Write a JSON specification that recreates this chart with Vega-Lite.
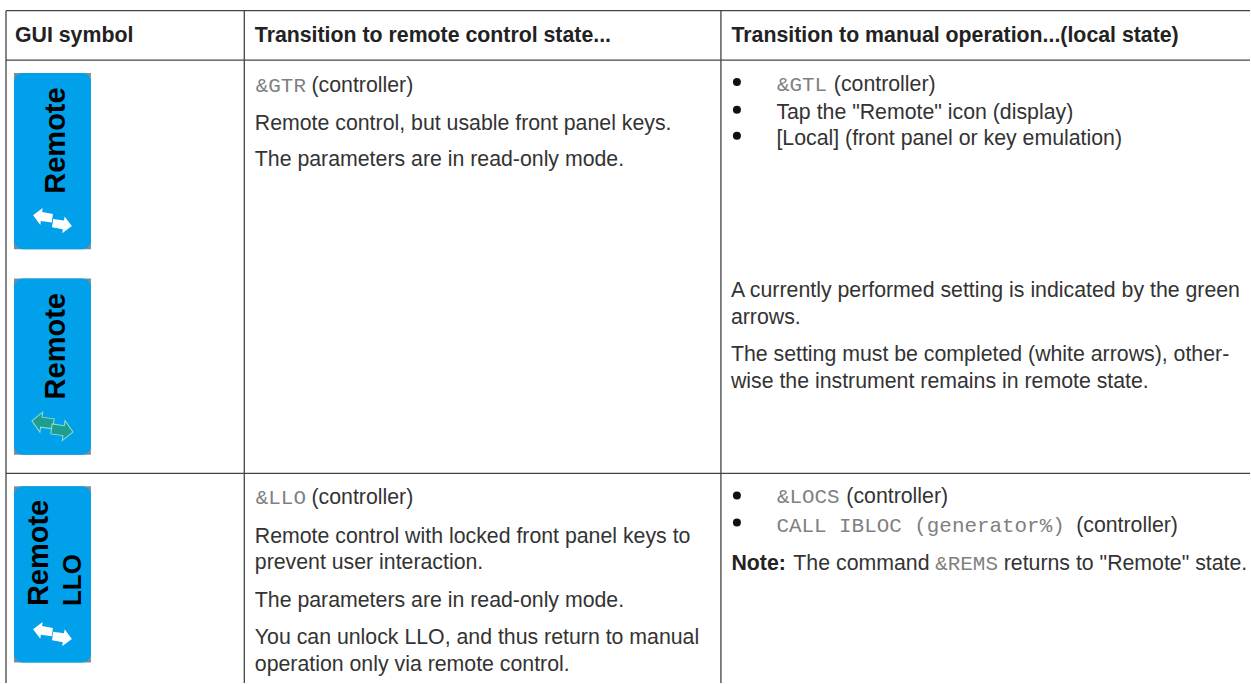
{
"$schema":"https://vega.github.io/schema/vega-lite/v6.json",
"width":1251,"height":684,
"autosize":{"type":"fit","contains":"padding"},
"background":"white",
"padding":0,
"view":{"stroke":null},
"datasets":{
"grid":[
{"x":6,"x2":1251,"y":10.7,"y2":10.7},
{"x":6,"x2":1251,"y":60.3,"y2":60.3},
{"x":6,"x2":1251,"y":474,"y2":474},
{"x":6,"x2":6,"y":10.7,"y2":684},
{"x":244.5,"x2":244.5,"y":10.7,"y2":684},
{"x":721.5,"x2":721.5,"y":10.7,"y2":684}
],
"icons":[
{"x":14,"x2":91,"y":73,"y2":249.5},
{"x":14,"x2":91,"y":279,"y2":455.5},
{"x":14,"x2":91,"y":487,"y2":663.5}
],
"iconText":[
{"t":"Remote","x":65,"y":194},
{"t":"Remote","x":65,"y":400},
{"t":"Remote","x":48,"y":607}
],
"iconText2":[{"t":"LLO","x":81.5,"y":607}],
"white":[{"x":43,"y":217,"d":"l"},{"x":62,"y":225,"d":"r"},{"x":43,"y":631.5,"d":"l"},{"x":62,"y":638.5,"d":"r"}],
"green":[{"x":43,"y":423,"d":"l"},{"x":62,"y":431,"d":"r"}],
"text":[
{"k":"h","t":"GUI symbol","x":15,"y":42},
{"k":"h","t":"Transition to remote control state...","x":255,"y":42},
{"k":"h","t":"Transition to manual operation...(local state)","x":732,"y":42},
{"k":"m","t":"&GTR","x":256,"y":91.7},
{"k":"b","t":"(controller)","x":311.7,"y":91.7},
{"k":"b","t":"Remote control, but usable front panel keys.","x":255,"y":130},
{"k":"b","t":"The parameters are in read-only mode.","x":255,"y":166.7},
{"k":"m","t":"&GTL","x":777.5,"y":91},
{"k":"b","t":"(controller)","x":834.5,"y":91},
{"k":"b","t":"Tap the \"Remote\" icon (display)","x":777,"y":119.3},
{"k":"b","t":"[Local] (front panel or key emulation)","x":777,"y":145.3},
{"k":"b","t":"A currently performed setting is indicated by the green","x":731.5,"y":297},
{"k":"b","t":"arrows.","x":731.5,"y":324},
{"k":"b","t":"The setting must be completed (white arrows), other-","x":731.5,"y":361.8},
{"k":"b","t":"wise the instrument remains in remote state.","x":731.5,"y":388.9},
{"k":"m","t":"&LLO","x":256,"y":505},
{"k":"b","t":"(controller)","x":311.7,"y":505},
{"k":"b","t":"Remote control with locked front panel keys to","x":255,"y":544},
{"k":"b","t":"prevent user interaction.","x":255,"y":570},
{"k":"b","t":"The parameters are in read-only mode.","x":255,"y":607.7},
{"k":"b","t":"You can unlock LLO, and thus return to manual","x":255,"y":645},
{"k":"b","t":"operation only via remote control.","x":255,"y":671.7},
{"k":"m","t":"&LOCS","x":777.5,"y":503.7},
{"k":"b","t":"(controller)","x":847,"y":503.7},
{"k":"m","t":"CALL IBLOC (generator%)","x":777,"y":532.6},
{"k":"b","t":"(controller)","x":1077,"y":532.6},
{"k":"n","t":"Note:","x":732,"y":570.5},
{"k":"b","t":"The command","x":794,"y":570.5},
{"k":"m","t":"&REMS","x":936,"y":570.5},
{"k":"b","t":"returns to \"Remote\" state.","x":1004.5,"y":570.5}
],
"bullets":[{"x":737.5,"y":82},{"x":737.5,"y":109.8},{"x":737.5,"y":136},{"x":737.5,"y":496.3},{"x":737.5,"y":523.3}]
},
"layer":[
{"data":{"name":"grid"},"mark":{"type":"rule","color":"#444444","strokeWidth":1.3},
"encoding":{"x":{"field":"x","type":"quantitative","scale":{"domain":[0,1251],"nice":false,"zero":false},"axis":null},"y":{"field":"y","type":"quantitative","scale":{"domain":[684,0],"nice":false,"zero":false},"axis":null},"x2":{"field":"x2"},"y2":{"field":"y2"}}},
{"data":{"name":"icons"},"mark":{"type":"rect","color":"#7a8d9c"},
"encoding":{"x":{"field":"x","type":"quantitative"},"y":{"field":"y","type":"quantitative"},"x2":{"field":"x2"},"y2":{"field":"y2"}}},
{"data":{"name":"icons"},"mark":{"type":"rect","color":"#00a0ea","cornerRadius":9},
"encoding":{"x":{"field":"x","type":"quantitative"},"y":{"field":"y","type":"quantitative"},"x2":{"field":"x2"},"y2":{"field":"y2"}}},
{"data":{"name":"iconText"},"mark":{"type":"text","font":"Liberation Sans","fontWeight":"bold","fontSize":29,"angle":270,"align":"left","baseline":"alphabetic","color":"#000000"},
"encoding":{"x":{"field":"x","type":"quantitative"},"y":{"field":"y","type":"quantitative"},"text":{"field":"t"}}},
{"data":{"name":"iconText2"},"mark":{"type":"text","font":"Liberation Sans","fontWeight":"bold","fontSize":26,"angle":270,"align":"left","baseline":"alphabetic","color":"#000000"},
"encoding":{"x":{"field":"x","type":"quantitative"},"y":{"field":"y","type":"quantitative"},"text":{"field":"t"}}},
{"data":{"name":"white"},"transform":[{"filter":"datum.d=='l'"}],"mark":{"type":"point","filled":true,"opacity":1,"color":"white","size":400,"angle":8,"shape":"M-1,0 L-0.15,-0.85 L-0.15,-0.45 L0.95,-0.4 L0.95,0.45 L-0.15,0.45 L-0.15,0.85 Z"},
"encoding":{"x":{"field":"x","type":"quantitative"},"y":{"field":"y","type":"quantitative"}}},
{"data":{"name":"white"},"transform":[{"filter":"datum.d=='r'"}],"mark":{"type":"point","filled":true,"opacity":1,"color":"white","size":400,"angle":8,"shape":"M1,0 L0.15,-0.85 L0.15,-0.45 L-0.95,-0.45 L-0.95,0.4 L0.15,0.45 L0.15,0.85 Z"},
"encoding":{"x":{"field":"x","type":"quantitative"},"y":{"field":"y","type":"quantitative"}}},
{"data":{"name":"green"},"transform":[{"filter":"datum.d=='l'"}],"mark":{"type":"point","filled":true,"opacity":1,"fill":"#1f9e8c","stroke":"#8fdcd8","strokeWidth":1,"size":500,"angle":8,"shape":"M-1,0 L-0.15,-0.9 L-0.15,-0.45 L0.95,-0.45 L0.95,0.45 L-0.15,0.45 L-0.15,0.9 Z"},
"encoding":{"x":{"field":"x","type":"quantitative"},"y":{"field":"y","type":"quantitative"}}},
{"data":{"name":"green"},"transform":[{"filter":"datum.d=='r'"}],"mark":{"type":"point","filled":true,"opacity":1,"fill":"#1f9e8c","stroke":"#8fdcd8","strokeWidth":1,"size":500,"angle":8,"shape":"M1,0 L0.15,-0.9 L0.15,-0.45 L-0.95,-0.45 L-0.95,0.45 L0.15,0.45 L0.15,0.9 Z"},
"encoding":{"x":{"field":"x","type":"quantitative"},"y":{"field":"y","type":"quantitative"}}},
{"data":{"name":"bullets"},"mark":{"type":"circle","color":"#111111","size":64,"opacity":1},
"encoding":{"x":{"field":"x","type":"quantitative"},"y":{"field":"y","type":"quantitative"}}},
{"data":{"name":"text"},"transform":[{"filter":"datum.k=='h'"}],"mark":{"type":"text","font":"Liberation Sans","fontWeight":"bold","fontSize":21.3,"align":"left","baseline":"alphabetic","color":"#222222"},
"encoding":{"x":{"field":"x","type":"quantitative"},"y":{"field":"y","type":"quantitative"},"text":{"field":"t"}}},
{"data":{"name":"text"},"transform":[{"filter":"datum.k=='b'"}],"mark":{"type":"text","font":"Liberation Sans","fontSize":21.3,"align":"left","baseline":"alphabetic","color":"#333333"},
"encoding":{"x":{"field":"x","type":"quantitative"},"y":{"field":"y","type":"quantitative"},"text":{"field":"t"}}},
{"data":{"name":"text"},"transform":[{"filter":"datum.k=='n'"}],"mark":{"type":"text","font":"Liberation Sans","fontWeight":"bold","fontSize":21.3,"align":"left","baseline":"alphabetic","color":"#222222"},
"encoding":{"x":{"field":"x","type":"quantitative"},"y":{"field":"y","type":"quantitative"},"text":{"field":"t"}}},
{"data":{"name":"text"},"transform":[{"filter":"datum.k=='m'"}],"mark":{"type":"text","font":"Liberation Mono","fontSize":20.9,"align":"left","baseline":"alphabetic","color":"#808080"},
"encoding":{"x":{"field":"x","type":"quantitative"},"y":{"field":"y","type":"quantitative"},"text":{"field":"t"}}}
]
}
